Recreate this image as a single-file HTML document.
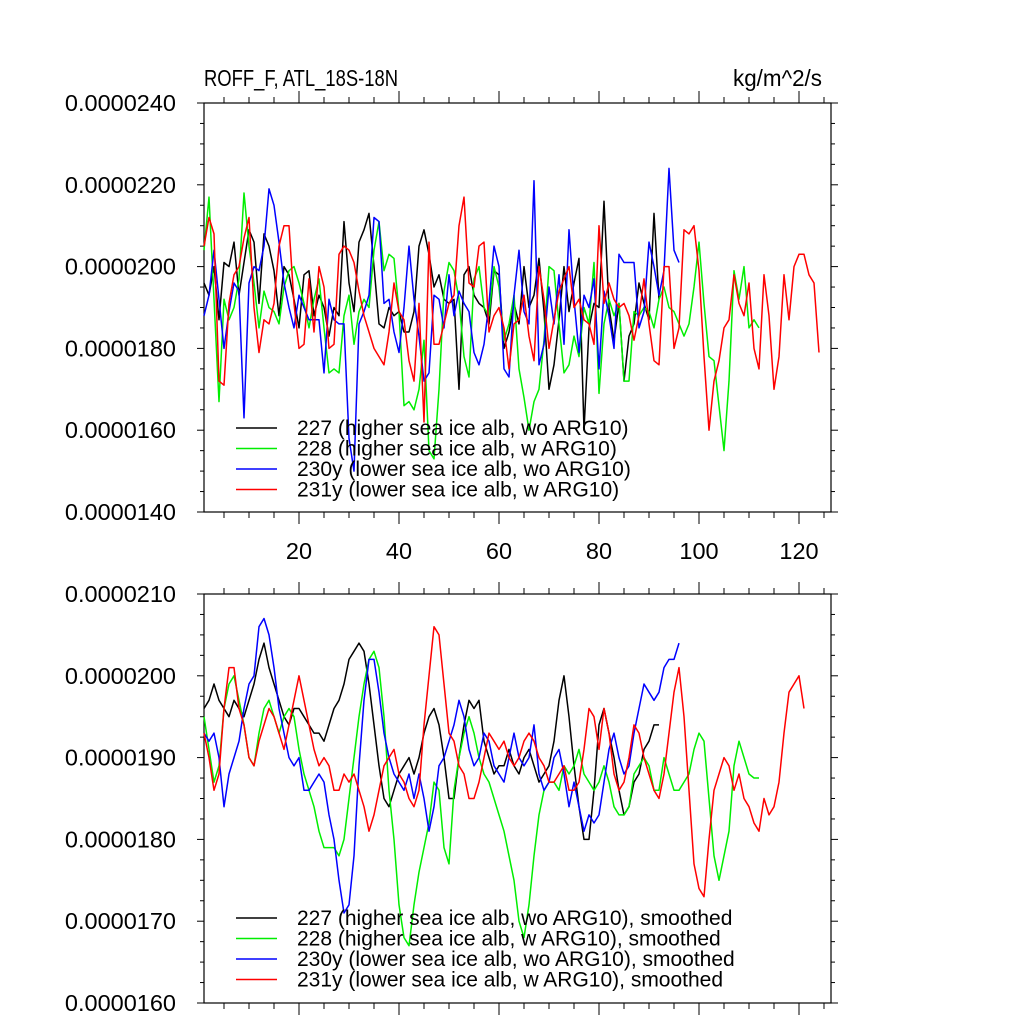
<!DOCTYPE html>
<html><head><meta charset="utf-8"><style>
body{margin:0;background:#fff}
svg text{font-family:"Liberation Sans",sans-serif;fill:#000}
</style></head><body>
<svg id="chart" width="1024" height="1024" viewBox="0 0 1024 1024"></svg>
<script>
const topBlack=[196,193,200,187,201,200,206,193,201,209,206,191,208,205,199,188,200,198,192,185,198,199,188,193,190,183,190,188,211,196,189,206,209,213,200,186,185,190,188,189,184,184,189,205,209,203,195,198,192,191,192,170,198,200,193,191,190,186,199,198,180,184,191,186,200,190,193,202,189,170,176,187,200,189,196,202,160,185,191,190,216,190,182,191,172,183,186,196,191,187,213,192];
const topGreen=[204,217,192,167,192,187,190,197,218,205,196,185,194,190,189,186,195,199,200,196,191,185,192,197,185,174,175,174,188,193,181,189,192,190,204,211,199,203,202,189,166,167,165,170,182,155,153,170,194,201,199,192,178,173,197,200,190,188,200,195,182,186,193,175,168,160,167,170,182,200,199,186,174,176,183,178,190,186,201,169,186,192,188,191,172,172,189,188,190,189,185,192,195,190,189,186,183,186,195,206,191,178,177,166,155,172,199,192,200,185,187,185];
const topBlue=[188,193,204,192,180,189,196,194,163,196,200,199,205,219,215,206,196,190,185,193,190,187,187,187,174,192,187,186,186,158,150,186,189,193,212,211,191,192,184,179,190,205,192,183,172,174,193,192,185,198,188,194,191,189,179,176,181,191,205,200,175,173,193,204,189,186,221,176,181,195,186,198,181,209,192,179,193,190,197,175,194,188,180,203,201,201,201,185,189,206,200,193,199,224,204,201];
const topRed=[205,212,208,172,171,191,198,200,207,212,190,179,187,186,191,205,210,210,191,180,181,197,184,200,195,180,181,203,205,204,201,194,188,184,180,178,176,184,196,189,187,177,172,191,162,206,181,181,186,191,193,210,217,196,195,205,206,184,188,190,185,175,186,187,193,183,177,200,192,180,187,194,197,200,190,192,187,186,181,210,191,196,192,190,191,188,182,188,197,186,177,176,200,200,180,185,209,208,210,199,178,160,172,177,185,187,198,191,188,196,180,175,198,188,170,178,198,187,200,203,203,198,196,179];
const botBlack=[196,197,199,197,196,195,197,196,195,197,199,202,204,201,199,197,195,194,196,196,195,194,193,193,192,194,196,197,199,202,203,204,203,199,194,189,185,184,186,188,189,190,188,190,193,195,196,194,190,185,185,190,194,197,196,197,192,190,188,189,189,191,189,188,190,191,189,187,188,189,192,197,200,195,189,184,180,180,186,194,196,193,190,186,183,184,187,188,191,192,194,194];
const botGreen=[195,191,187,189,196,199,200,197,194,190,189,193,196,197,195,193,195,196,195,191,188,186,184,181,179,179,179,178,180,185,190,195,199,202,203,201,195,186,180,172,168,167,172,176,179,182,187,186,179,177,186,190,193,195,193,190,188,187,185,183,181,178,175,170,168,172,178,183,186,187,187,186,189,188,189,191,188,187,186,187,189,187,184,183,183,184,188,189,190,189,186,186,190,188,186,186,187,188,191,193,192,185,178,175,178,181,189,192,190,188,187.5,187.5];
const botBlue=[193,192,193,190,184,188,190,192,196,199,200,206,207,205,201,196,193,190,189,190,186,186,187,188,187,183,180,175,171,172,178,189,197,202,202,198,193,190,188,187,186,188,185,188,185,181,184,189,190,192,194,197,195,191,189,190,193,192,189,188,187,190,193,190,189,190,194,188,186,187,190,191,188,184,187,184,181,183,182,183,187,191,193,190,188,189,193,196,199,198,197,198,201,202,202,204];
const botRed=[193,190,186,188,196,201,201,196,194,190,189,192,194,196,195,193,191,194,197,200,197,194,191,189,190,189,186,186,188,187,188,186,184,181,183,186,189,190,191,188,187,185,184,186,194,200,206,205,199,193,192,189,188,185,185,187,190,193,192,191,192,190,189,190,192,193,192,190,189,187,187,188,189,186,186,187,191,196,195,191,196,193,188,186,187,190,194,193,190,188,186,185,188,193,198,201,195,186,177,174,173,180,186,188,190,189,186,188,185,184,182,181,185,183,184,187,193,198,199,200,196];
const colors=['#000','#00ee00','#0000ff','#ff0000'];
const topLabels=['227 (higher sea ice alb, wo ARG10)','228 (higher sea ice alb, w ARG10)','230y (lower sea ice alb, wo ARG10)','231y (lower sea ice alb, w ARG10)'];
const botLabels=['227 (higher sea ice alb, wo ARG10), smoothed','228 (higher sea ice alb, w ARG10), smoothed','230y (lower sea ice alb, wo ARG10), smoothed','231y (lower sea ice alb, w ARG10), smoothed'];
const xTicks=[20,40,60,80,100,120];
const topYTicks=['0.0000140','0.0000160','0.0000180','0.0000200','0.0000220','0.0000240'];
const botYTicks=['0.0000160','0.0000170','0.0000180','0.0000190','0.0000200','0.0000210'];

const svg=document.getElementById('chart');
const NS='http://www.w3.org/2000/svg';
function mk(t,a){const e=document.createElementNS(NS,t);for(const k in a)e.setAttribute(k,a[k]);svg.appendChild(e);return e;}
const X0=204,X1=831;
const xs=v=>199+5*v;

function panel(y0,y1,vmin,vmax,yt,series,labels,legY,showX,pname){
  const ys=v=>y1-(v-vmin)/(vmax-vmin)*(y1-y0);
  const fr=mk('rect',{x:X0,y:y0,width:X1-X0,height:y1-y0,fill:'none',stroke:'#000','stroke-width':1.2});
  
  
  const n=(yt.length-1)*4;
  for(let i=0;i<=n;i++){
    const v=vmin+(vmax-vmin)*i/n, y=ys(v), L=i%4==0?7:4;
    const t1=mk('line',{x1:X0-L,x2:X0,y1:y,y2:y,stroke:'#000','stroke-width':1});
    
    
    const t2=mk('line',{x1:X1,x2:X1+L,y1:y,y2:y,stroke:'#000','stroke-width':1});
    
    
  }
  yt.forEach((s,i)=>{
    const v=vmin+(vmax-vmin)*i/(yt.length-1);
    const t=mk('text',{x:176,y:ys(v)+8,'text-anchor':'end','font-size':23.5});
    t.textContent=s;
    
    
  });
  for(let v=5;v<=125;v+=5){
    const x=xs(v),L=v%20==0?12:6;
    const a=mk('line',{x1:x,x2:x,y1:y1,y2:y1+L,stroke:'#000','stroke-width':1});
    
    
    const b=mk('line',{x1:x,x2:x,y1:y0-L,y2:y0,stroke:'#000','stroke-width':1});
    
    
  }
  if(showX) xTicks.forEach(v=>{
    const t=mk('text',{x:xs(v),y:y1+47,'text-anchor':'middle','font-size':23.5});
    t.textContent=v;
    
    
  });
  series.forEach((d,k)=>{
    const p=d.map((v,i)=>xs(i+1).toFixed(1)+','+ys(v).toFixed(1)).join(' ');
    const pl=mk('polyline',{points:p,fill:'none',stroke:colors[k],'stroke-width':1.5,'stroke-linejoin':'round'});
    
    
  });
  labels.forEach((s,k)=>{
    const y=legY+k*20.5;
    const l=mk('line',{x1:236,x2:277,y1:y,y2:y,stroke:colors[k],'stroke-width':1.5});
    
    
    const t=mk('text',{x:297,y:y+7,'font-size':21});
    t.textContent=s;
    
    
  });
}
panel(103,512,140,240,topYTicks,[topBlack,topGreen,topBlue,topRed],topLabels,428,true,'top-panel');
panel(594,1003,160,210,botYTicks,[botBlack,botGreen,botBlue,botRed],botLabels,918,false,'bottom-panel');
const t1=mk('text',{x:204,y:86,'font-size':23,textLength:194,lengthAdjust:'spacingAndGlyphs'});
t1.textContent='ROFF_F, ATL_18S-18N';


const t2=mk('text',{x:733,y:86,'font-size':23,textLength:89,lengthAdjust:'spacingAndGlyphs'});
t2.textContent='kg/m^2/s';


</script>
</body></html>
